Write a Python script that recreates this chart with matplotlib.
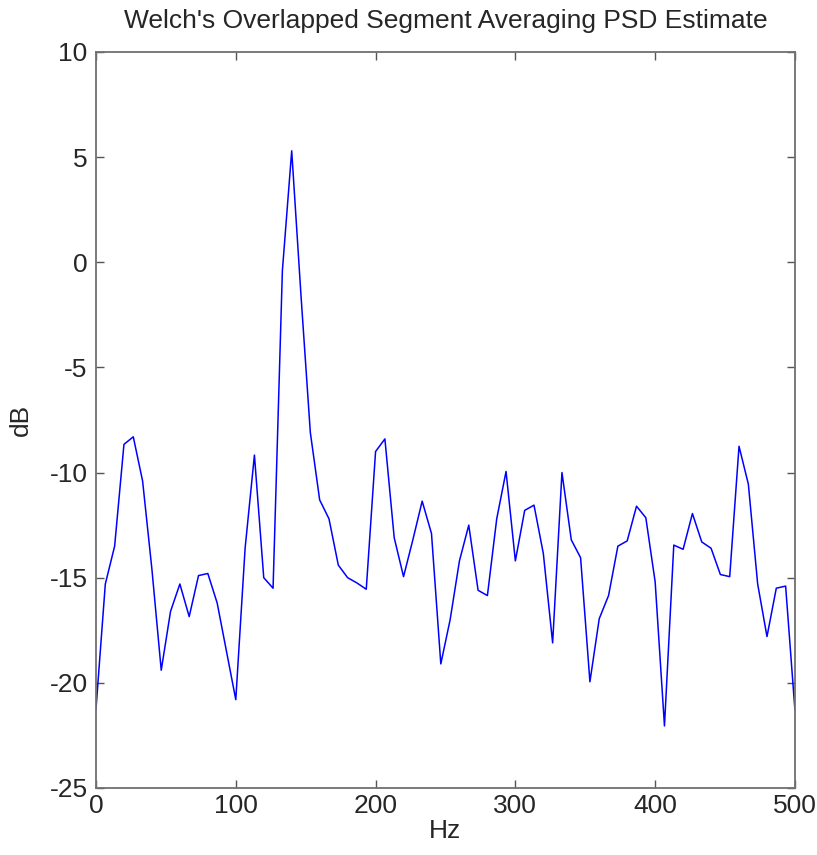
import numpy as np
import matplotlib
matplotlib.use('Agg')
import matplotlib.pyplot as plt

# Welch PSD estimate, 76 bins from 0 to 500 Hz
n_bins = 76
freqs = np.arange(n_bins) * 500.0 / (n_bins - 1)
psd_db = [
    -21.24, -15.3, -13.5, -8.66, -8.3, -10.4, -14.6, -19.4, -16.6, -15.3,
    -16.85, -14.9, -14.8, -16.2, -18.5, -20.8, -13.6, -9.17, -15.0, -15.5,
    -0.4, 5.3, -1.6, -8.1, -11.3, -12.2, -14.4, -15.0, -15.25, -15.55,
    -9.0, -8.4, -13.1, -14.95, -13.2, -11.36, -12.9, -19.1, -17.0, -14.2,
    -12.5, -15.6, -15.85, -12.2, -9.95, -14.2, -11.8, -11.55, -13.85, -18.1,
    -10.0, -13.2, -14.05, -19.95, -16.95, -15.85, -13.5, -13.25, -11.6, -12.15,
    -15.2, -22.05, -13.45, -13.65, -11.95, -13.3, -13.6, -14.85, -14.95, -8.75,
    -10.55, -15.3, -17.8, -15.5, -15.4, -21.3,
]
x_ticks = [0, 100, 200, 300, 400, 500]
y_ticks = [-25, -20, -15, -10, -5, 0, 5, 10]

plt.rcParams['font.family'] = ['Liberation Sans', 'DejaVu Sans']
plt.rcParams['axes.unicode_minus'] = False

txt = '#262626'
fig = plt.figure(figsize=(8.17, 8.55), dpi=100)
ax = fig.add_axes([0.1175, 0.0784, 0.8555, 0.8608])
ax.plot(freqs, psd_db, color='#0000ff', linewidth=1.1)

ax.set_xlim(0, 500)
ax.set_ylim(-25, 10)
ax.set_xticks(x_ticks)
ax.set_yticks(y_ticks)
ax.tick_params(direction='in', top=True, right=True, length=6, width=1,
               color='#555555', labelsize=19, labelcolor=txt)
ax.tick_params(axis='x', pad=4)
ax.tick_params(axis='y', pad=6)
for s in ax.spines.values():
    s.set_color('#707070')
    s.set_linewidth(1.3)

ax.set_xlabel('Hz', fontsize=19, color=txt, labelpad=1)
ax.set_ylabel('dB', fontsize=19, color=txt, labelpad=12)
ax.set_title("Welch's Overlapped Segment Averaging PSD Estimate", fontsize=19,
             color=txt, pad=17)

fig.savefig('out.png', dpi=100)
